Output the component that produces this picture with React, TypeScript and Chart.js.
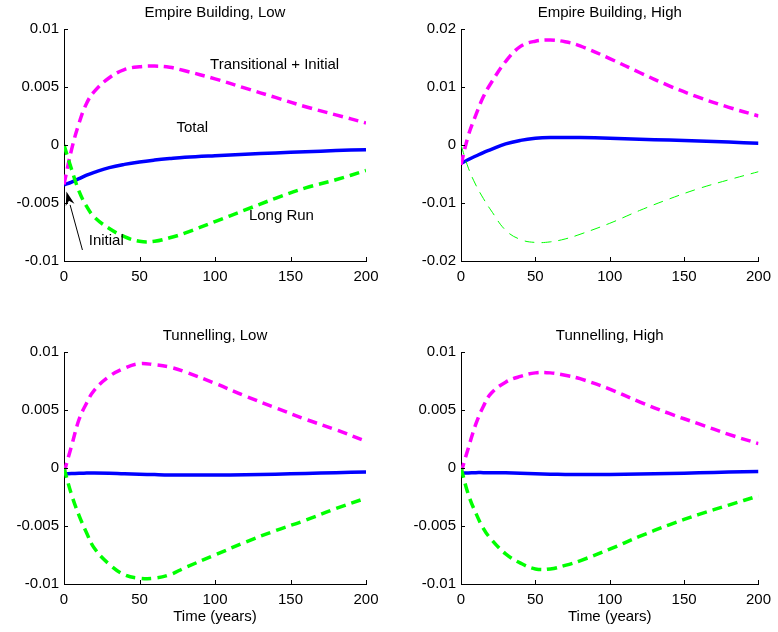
import React, { useEffect, useRef } from "react";
import { Chart, registerables } from "chart.js";

Chart.register(...registerables);

// ---------- data ----------
const timeYears = [0, 5, 10, 15, 20, 30, 40, 50, 60, 70, 80, 100, 120, 140, 160, 180, 200];
const xTickValues = [0, 50, 100, 150, 200];
const yTicksNarrow = [-0.01, -0.005, 0, 0.005, 0.01];
const yTicksWide = [-0.02, -0.01, 0, 0.01, 0.02];

const panelTitles = ["Empire Building, Low", "Empire Building, High", "Tunnelling, Low", "Tunnelling, High"];
const xAxisTitle = "Time (years)";

const ebLowTransitional = [-0.0034, -0.0004, 0.0019, 0.0036, 0.0046, 0.0058, 0.0065, 0.00675, 0.0068, 0.0067, 0.0064, 0.0057, 0.0049, 0.0041, 0.0033, 0.0026, 0.0019];
const ebLowLongRun = [0, -0.0021, -0.004, -0.0053, -0.0062, -0.0072, -0.0079, -0.0083, -0.0083, -0.008, -0.0076, -0.0066, -0.0056, -0.0046, -0.0037, -0.003, -0.0022];
const ebLowTotal = [-0.00345, -0.0032, -0.0029, -0.0026, -0.00236, -0.00195, -0.00167, -0.00146, -0.0013, -0.00117, -0.00106, -0.00092, -0.0008, -0.00068, -0.00058, -0.00048, -0.0004];

const ebHighTransitional = [-0.0034, 0.0017, 0.0052, 0.0083, 0.0106, 0.0144, 0.017, 0.0179, 0.0181, 0.0178, 0.0171, 0.0149, 0.0125, 0.0102, 0.0082, 0.0065, 0.005];
const ebHighLongRun = [0, -0.004, -0.0069, -0.0092, -0.0112, -0.0147, -0.0163, -0.0168, -0.0167, -0.0162, -0.0154, -0.0135, -0.0113, -0.0093, -0.0075, -0.006, -0.0046];
const ebHighTotal = [-0.0032, -0.0025, -0.0019, -0.0013, -0.0008, 0.0002, 0.0008, 0.00115, 0.0013, 0.0013, 0.0013, 0.00118, 0.001, 0.00085, 0.0007, 0.0005, 0.0003];

const tunLowTransitional = [-0.0004, 0.0019, 0.0042, 0.0056, 0.0067, 0.0079, 0.0086, 0.009, 0.0089, 0.0087, 0.0083, 0.0073, 0.0062, 0.0052, 0.0042, 0.0033, 0.0023];
const tunLowLongRun = [0, -0.0023, -0.0041, -0.0056, -0.0069, -0.0083, -0.0092, -0.0095, -0.0095, -0.0092, -0.0086, -0.0075, -0.0064, -0.0054, -0.0045, -0.0035, -0.0026];
const tunLowTotal = [-0.0005, -0.00048, -0.00045, -0.00044, -0.00043, -0.00045, -0.0005, -0.00053, -0.00057, -0.0006, -0.0006, -0.0006, -0.00058, -0.00053, -0.00047, -0.0004, -0.00035];

const tunHighTransitional = [-0.0004, 0.00175, 0.0038, 0.0053, 0.0064, 0.0074, 0.0079, 0.0082, 0.0082, 0.008, 0.0077, 0.0068, 0.0057, 0.0047, 0.0038, 0.0029, 0.0021];
const tunHighLongRun = [0, -0.0023, -0.0039, -0.0052, -0.0061, -0.0074, -0.0082, -0.0087, -0.0087, -0.0084, -0.008, -0.007, -0.0059, -0.0049, -0.004, -0.0032, -0.0024];
const tunHighTotal = [-0.00045, -0.00043, -0.0004, -0.0004, -0.0004, -0.00042, -0.00045, -0.0005, -0.00053, -0.00055, -0.00055, -0.00055, -0.00052, -0.00048, -0.00042, -0.00035, -0.0003];

// annotations (first panel), in data coordinates
const annotationTexts = ["Transitional + Initial", "Total", "Long Run", "Initial"];
const annotationX = [139.5, 85, 144, 28];
const annotationY = [0.0069, 0.00144, -0.0061, -0.0083];
const arrowTail = [12.2, -0.00905];
const arrowTip = [1.6, -0.004];

// ---------- styling ----------
const FONT_FAMILY = "'Liberation Sans', Arial, Helvetica, sans-serif";
const FONT_SIZE = 15;
const MAGENTA = "#ff00ff";
const GREEN = "#00ff00";
const BLUE = "#0000ff";
const Y_AXIS_W = 60;
const X_AXIS_H = 40;

type PanelCfg = {
  left: number; top: number; w: number; h: number;
  area: { l: number; r: number; t: number; b: number };
  title: string;
  yTicks: number[];
  transitional: number[]; longRun: number[]; total: number[];
  thinGreen?: boolean;
  xTitle?: boolean;
  annotations?: boolean;
};

const panels: PanelCfg[] = [
  { left: 0, top: 0, w: 389, h: 316, area: { l: 64, r: 366, t: 29, b: 261 }, title: panelTitles[0], yTicks: yTicksNarrow,
    transitional: ebLowTransitional, longRun: ebLowLongRun, total: ebLowTotal, annotations: true },
  { left: 389, top: 0, w: 389, h: 316, area: { l: 72, r: 373, t: 29, b: 261 }, title: panelTitles[1], yTicks: yTicksWide,
    transitional: ebHighTransitional, longRun: ebHighLongRun, total: ebHighTotal, thinGreen: true },
  { left: 0, top: 316, w: 389, h: 316, area: { l: 64, r: 366, t: 36, b: 268 }, title: panelTitles[2], yTicks: yTicksNarrow,
    transitional: tunLowTransitional, longRun: tunLowLongRun, total: tunLowTotal, xTitle: true },
  { left: 389, top: 316, w: 389, h: 316, area: { l: 72, r: 373, t: 36, b: 268 }, title: panelTitles[3], yTicks: yTicksNarrow,
    transitional: tunHighTransitional, longRun: tunHighLongRun, total: tunHighTotal, xTitle: true },
];

function fmtTick(v: number) {
  const n = parseFloat(Number(v).toFixed(4));
  return String(n === 0 ? 0 : n);
}

function Panel({ cfg }: { cfg: PanelCfg }) {
  const ref = useRef<HTMLCanvasElement>(null);
  useEffect(() => {
    const canvas = ref.current!;
    const font = { family: FONT_FAMILY, size: FONT_SIZE };
    const pts = (arr: number[]) => timeYears.map((x, i) => ({ x, y: arr[i] }));
    const yMin = cfg.yTicks[0];
    const yMax = cfg.yTicks[cfg.yTicks.length - 1];

    const panelPlugin = {
      id: "panelDecor",
      afterDraw(chart: any) {
        const ctx = chart.ctx as CanvasRenderingContext2D;
        const ca = chart.chartArea;
        const xs = chart.scales.x;
        const ys = chart.scales.y;
        ctx.save();
        // inward tick marks
        ctx.strokeStyle = "#000";
        ctx.lineWidth = 1;
        ctx.beginPath();
        xTickValues.forEach((v) => {
          const px = Math.round(xs.getPixelForValue(v)) + 0.5;
          ctx.moveTo(px, ca.bottom);
          ctx.lineTo(px, ca.bottom - 4);
        });
        cfg.yTicks.forEach((v) => {
          const py = Math.round(ys.getPixelForValue(v)) + 0.5;
          ctx.moveTo(ca.left, py);
          ctx.lineTo(ca.left + 4, py);
        });
        ctx.stroke();
        // title
        ctx.fillStyle = "#000";
        ctx.font = `${FONT_SIZE}px ${FONT_FAMILY}`;
        ctx.textAlign = "center";
        ctx.textBaseline = "middle";
        ctx.fillText(cfg.title, (ca.left + ca.right) / 2, ca.top - 16.5);
        if (cfg.xTitle) {
          ctx.fillText(xAxisTitle, (ca.left + ca.right) / 2, ca.bottom + 32.5);
        }
        if (cfg.annotations) {
          annotationTexts.forEach((t, i) => {
            ctx.fillText(t, xs.getPixelForValue(annotationX[i]), ys.getPixelForValue(annotationY[i]));
          });
          const x0 = xs.getPixelForValue(arrowTail[0]);
          const y0 = ys.getPixelForValue(arrowTail[1]);
          const x1 = xs.getPixelForValue(arrowTip[0]);
          const y1 = ys.getPixelForValue(arrowTip[1]);
          const ang = Math.atan2(y1 - y0, x1 - x0);
          const headLen = 14;
          const headHalf = 4.5;
          const bx = x1 - headLen * Math.cos(ang);
          const by = y1 - headLen * Math.sin(ang);
          ctx.beginPath();
          ctx.moveTo(x0, y0);
          ctx.lineTo(bx, by);
          ctx.stroke();
          ctx.beginPath();
          ctx.moveTo(x1, y1);
          ctx.lineTo(bx + headHalf * Math.sin(ang), by - headHalf * Math.cos(ang));
          ctx.lineTo(x1 - headLen * 0.7 * Math.cos(ang), y1 - headLen * 0.7 * Math.sin(ang));
          ctx.lineTo(bx - headHalf * Math.sin(ang), by + headHalf * Math.cos(ang));
          ctx.closePath();
          ctx.fill();
        }
        ctx.restore();
      },
    };

    const chart = new Chart(canvas, {
      type: "line",
      data: {
        datasets: [
          {
            data: pts(cfg.longRun),
            borderColor: GREEN,
            borderWidth: cfg.thinGreen ? 1 : 3.5,
            borderDash: cfg.thinGreen ? [10, 7] : [10, 6],
            pointRadius: 0,
            tension: 0.4,
            fill: false,
          },
          {
            data: pts(cfg.transitional),
            borderColor: MAGENTA,
            borderWidth: 3.5,
            borderDash: [10, 6],
            pointRadius: 0,
            tension: 0.4,
            fill: false,
          },
          {
            data: pts(cfg.total),
            borderColor: BLUE,
            borderWidth: 3.5,
            pointRadius: 0,
            tension: 0.4,
            fill: false,
          },
        ],
      },
      options: {
        responsive: false,
        animation: false,
        devicePixelRatio: 1,
        layout: {
          padding: {
            left: cfg.area.l - Y_AXIS_W,
            right: cfg.w - cfg.area.r,
            top: cfg.area.t,
            bottom: cfg.h - cfg.area.b - X_AXIS_H,
          },
        },
        plugins: {
          legend: { display: false },
          title: { display: false },
          tooltip: { enabled: false },
        },
        scales: {
          x: {
            type: "linear",
            min: 0,
            max: 200,
            afterBuildTicks: (s: any) => {
              s.ticks = xTickValues.map((v) => ({ value: v }));
            },
            afterFit: (s: any) => {
              s.height = X_AXIS_H;
            },
            grid: { drawOnChartArea: false, drawTicks: false },
            border: { color: "#000", width: 1 },
            ticks: { padding: 7, font, color: "#000", maxRotation: 0, autoSkip: false, callback: (v: any) => String(v) },
          },
          y: {
            type: "linear",
            min: yMin,
            max: yMax,
            afterBuildTicks: (s: any) => {
              s.ticks = cfg.yTicks.map((v) => ({ value: v }));
            },
            afterFit: (s: any) => {
              s.width = Y_AXIS_W;
            },
            grid: { drawOnChartArea: false, drawTicks: false },
            border: { color: "#000", width: 1 },
            ticks: { padding: 5, font, color: "#000", autoSkip: false, callback: (v: any) => fmtTick(v) },
          },
        },
      } as any,
      plugins: [panelPlugin],
    });
    return () => chart.destroy();
  }, []);
  return (
    <canvas
      ref={ref}
      width={cfg.w}
      height={cfg.h}
      style={{ position: "absolute", left: cfg.left, top: cfg.top, width: cfg.w, height: cfg.h }}
    />
  );
}

export default function App() {
  return (
    <div style={{ position: "absolute", left: 0, top: 0, width: 778, height: 632, background: "#fff" }}>
      {panels.map((p, i) => (
        <Panel key={i} cfg={p} />
      ))}
    </div>
  );
}
